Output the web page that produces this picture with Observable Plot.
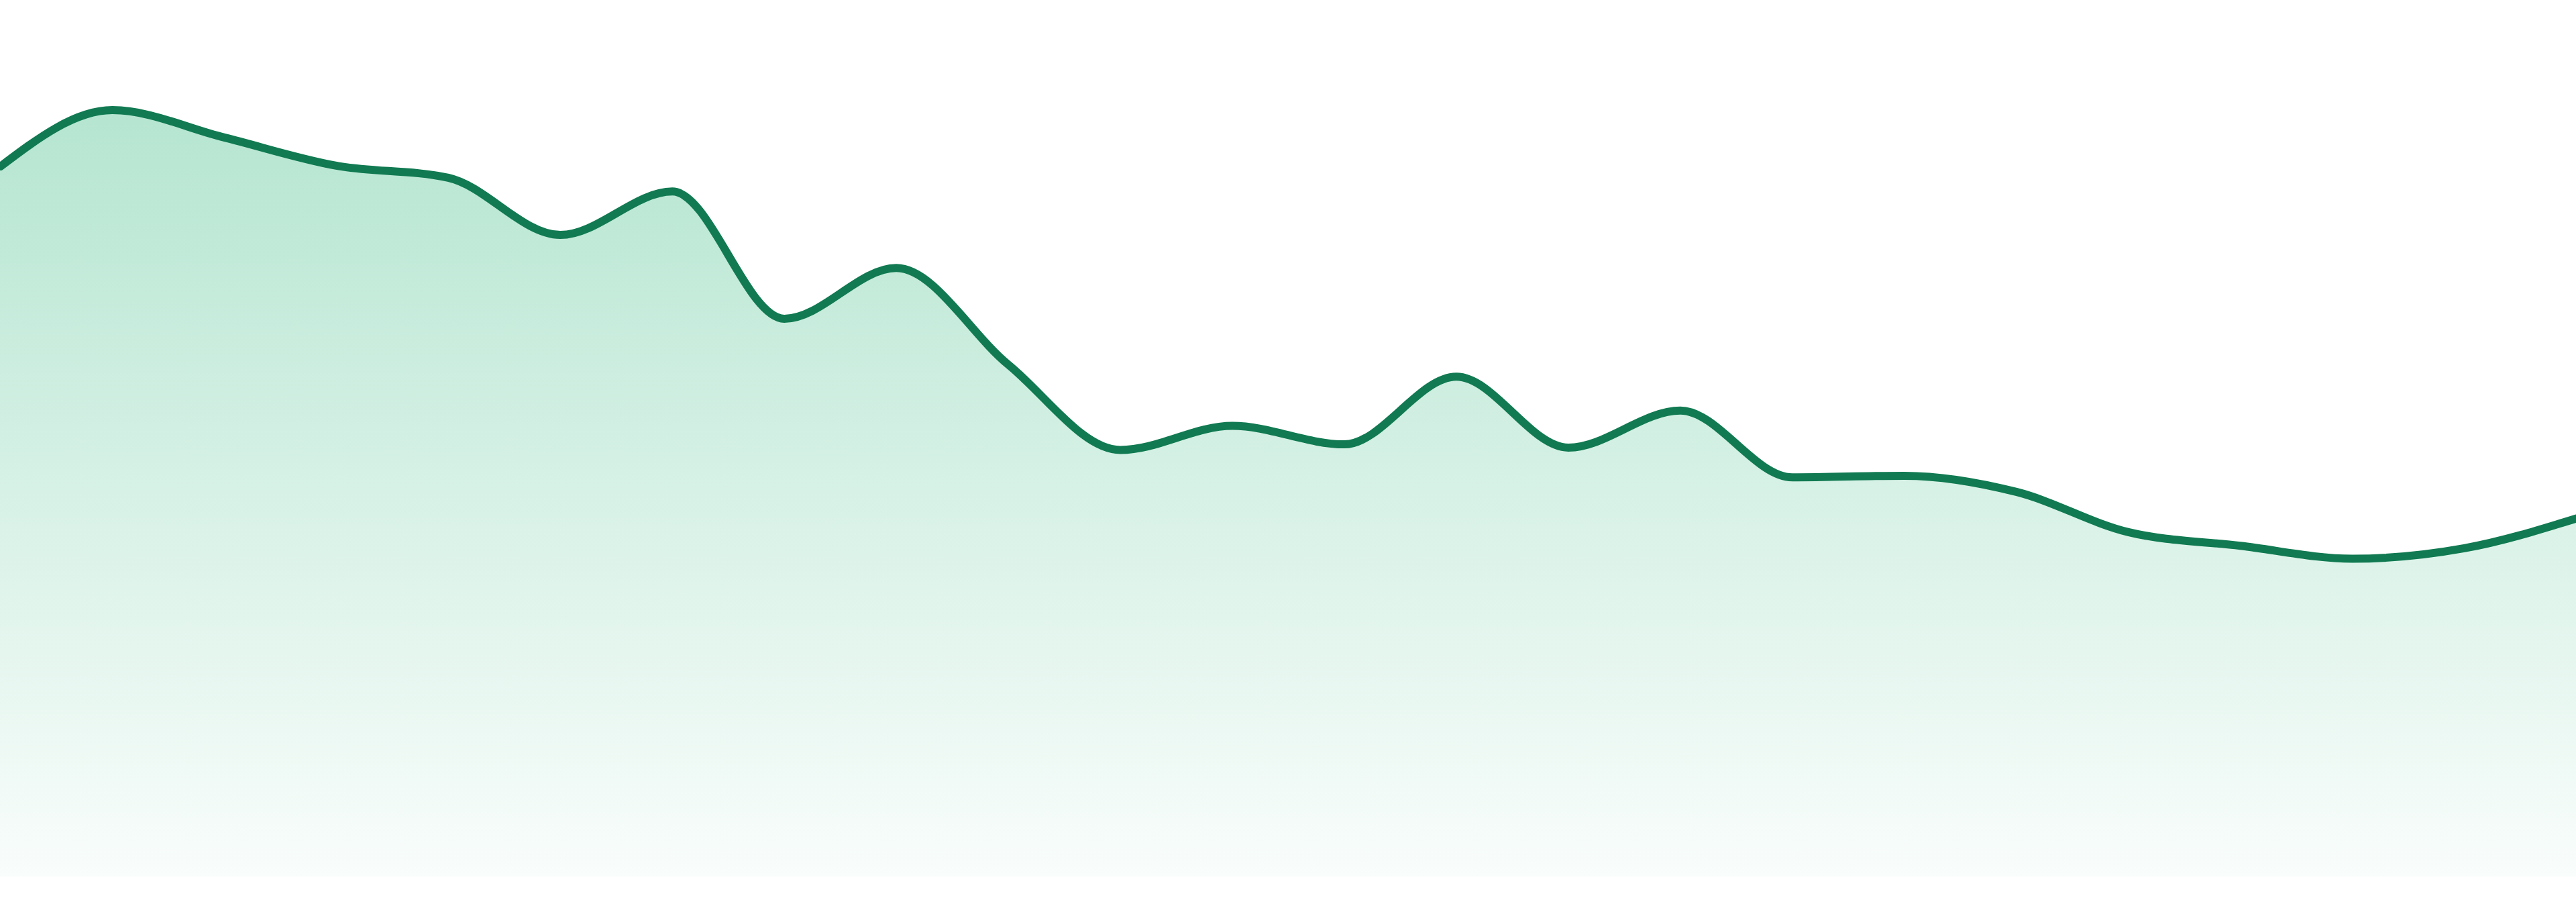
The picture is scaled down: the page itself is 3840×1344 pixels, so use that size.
<!DOCTYPE html>
<html>
<head>
<meta charset="utf-8">
<script src="https://cdn.jsdelivr.net/npm/d3@7"></script>
<script src="https://cdn.jsdelivr.net/npm/@observablehq/plot@0.6"></script>
<style>
  html, body { margin: 0; padding: 0; background: #ffffff; }
  #chart svg { display: block; }
</style>
</head>
<body>
<div id="chart"></div>
<script>
const days = d3.range(1, 25);
const values = [
  88.2, 95.2, 91.8, 88.3, 86.8, 79.7, 85.1, 69.3, 75.6, 63.6, 53.0, 56.0,
  53.7, 62.1, 53.3, 57.9, 49.6, 49.8, 47.8, 42.8, 41.1, 39.5, 40.8, 44.5
];
const lineColor = "#117a52";
const fillColor = "#10ac6a";

const data = days.map((d, i) => ({ day: d, value: values[i] }));

const chart = Plot.plot({
  width: 3840,
  height: 1344,
  marginLeft: 0,
  marginRight: 0,
  marginTop: 106,
  marginBottom: 38,
  style: { background: "#ffffff", overflow: "hidden" },
  x: { domain: [1, 24], axis: null },
  y: { domain: [0, 100], axis: null },
  marks: [
    Plot.areaY(data, { x: "day", y: "value", curve: "monotone-x", fill: "url(#areaGrad)" }),
    Plot.lineY(data, { x: "day", y: "value", curve: "monotone-x", stroke: lineColor, strokeWidth: 12, strokeLinejoin: "round" })
  ]
});

// gradient definition for the area fill
const svg = d3.select(chart);
const defs = svg.insert("defs", ":first-child");
const grad = defs.append("linearGradient")
  .attr("id", "areaGrad")
  .attr("x1", 0).attr("y1", 0).attr("x2", 0).attr("y2", 1);
grad.append("stop").attr("offset", "0%").attr("stop-color", fillColor).attr("stop-opacity", 0.31);
grad.append("stop").attr("offset", "100%").attr("stop-color", fillColor).attr("stop-opacity", 0.025);

document.getElementById("chart").appendChild(chart);
</script>
</body>
</html>
